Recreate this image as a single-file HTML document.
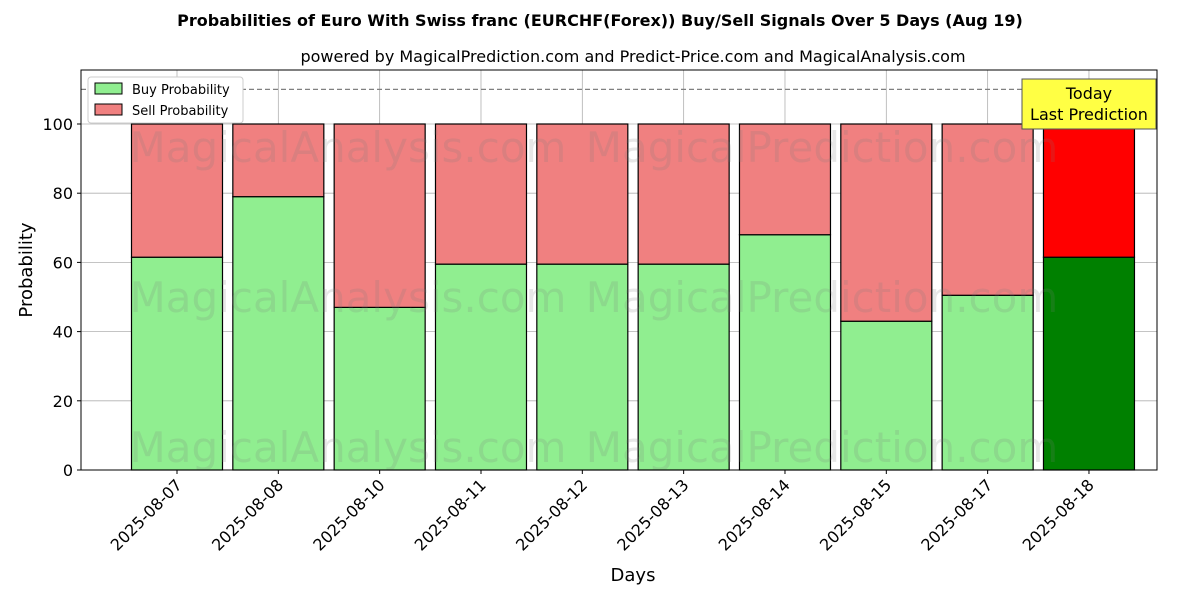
<!DOCTYPE html>
<html><head><meta charset="utf-8"><style>
body{margin:0;background:#fff;font-family:"Liberation Sans","DejaVu Sans",sans-serif}
</style></head><body>
<svg width="1200" height="600" xmlns="http://www.w3.org/2000/svg" font-family="DejaVu Sans, Liberation Sans, sans-serif">
<g id="plot"></g>
</svg>
<script>
const categories=["2025-08-07","2025-08-08","2025-08-10","2025-08-11","2025-08-12","2025-08-13","2025-08-14","2025-08-15","2025-08-17","2025-08-18"];
const buyValues=[61.5,79,47,59.5,59.5,59.5,68,43,50.5,61.5];
const sellValues=[38.5,21,53,40.5,40.5,40.5,32,57,49.5,38.5];
const yTicks=[0,20,40,60,80,100];
const NS="http://www.w3.org/2000/svg";
const svg=document.querySelector('svg');
const g=document.getElementById('plot');
const L=81,R=1157,T=70,B=470;
const y=v=>470-v*3.46;
const x=i=>177+i*101.33;
const bw=91;
function el(t,a,p){const e=document.createElementNS(NS,t);for(const k in a)e.setAttribute(k,a[k]);(p||g).appendChild(e);return e;}
// grid
yTicks.forEach(v=>{const l=el('line',{x1:L,x2:R,y1:y(v),y2:y(v),stroke:'#b0b0b0','stroke-width':0.8});

});
categories.forEach((c,i)=>{const l=el('line',{x1:x(i),x2:x(i),y1:T,y2:B,stroke:'#b0b0b0','stroke-width':0.8});

});
// bars
categories.forEach((c,i)=>{
const last=i===categories.length-1;
const b=el('rect',{x:x(i)-bw/2,y:y(buyValues[i]),width:bw,height:y(0)-y(buyValues[i]),fill:last?'#008000':'#90ee90',stroke:'#000','stroke-width':1.2});


const s=el('rect',{x:x(i)-bw/2,y:y(buyValues[i]+sellValues[i]),width:bw,height:y(buyValues[i])-y(buyValues[i]+sellValues[i]),fill:last?'#ff0000':'#f08080',stroke:'#000','stroke-width':1.2});


});
// watermarks
[[348,148],[822,148],[348,298],[822,298],[348,448],[822,448]].forEach((p,k)=>{
const t=el('text',{x:p[0],y:p[1]+14,'font-size':42,fill:'rgba(120,120,120,0.18)','text-anchor':'middle'});
t.textContent=(k%2==0)?'MagicalAnalysis.com':'MagicalPrediction.com';

});
// dashed line
const d=el('line',{x1:L,x2:R,y1:y(110),y2:y(110),stroke:'#808080','stroke-width':1.2,'stroke-dasharray':'5,3'});


// axes box
const f=el('rect',{x:L,y:T,width:R-L,height:B-T,fill:'none',stroke:'#000','stroke-width':1});


yTicks.forEach(v=>{el('line',{x1:L-4,x2:L,y1:y(v),y2:y(v),stroke:'#000'});
const t=el('text',{x:L-8,y:y(v)+6,'font-size':16,'text-anchor':'end'});t.textContent=v;

});
categories.forEach((c,i)=>{el('line',{x1:x(i),x2:x(i),y1:B,y2:B+4,stroke:'#000'});
const t=el('text',{x:x(i)+6,y:B+16,'font-size':16,'text-anchor':'end',transform:`rotate(-45 ${x(i)+6} ${B+16})`});t.textContent=c;

});
// titles
function txt(s,a,n){const t=el('text',a,svg);t.textContent=s;return t;}
txt('Probabilities of Euro With Swiss franc (EURCHF(Forex)) Buy/Sell Signals Over 5 Days (Aug 19)',{x:600,y:26,'font-size':16,'font-weight':'bold','text-anchor':'middle'},'chart-title');
txt('powered by MagicalPrediction.com and Predict-Price.com and MagicalAnalysis.com',{x:633,y:62,'font-size':16,'text-anchor':'middle'},'chart-subtitle');
txt('Days',{x:633,y:581,'font-size':18,'text-anchor':'middle'},'x-axis-title');
txt('Probability',{x:32,y:270,'font-size':18,'text-anchor':'middle',transform:'rotate(-90 32 270)'},'y-axis-title');
// annotation
const ab=el('rect',{x:1022,y:79,width:134,height:50,fill:'#ffff44',stroke:'#555','stroke-width':1},svg);


txt('Today',{x:1089,y:99,'font-size':16,'text-anchor':'middle'},'annotation-today');
txt('Last Prediction',{x:1089,y:120,'font-size':16,'text-anchor':'middle'},'annotation-last-prediction');
// legend
const lg=el('rect',{x:88,y:77,width:155,height:46,fill:'#fff',stroke:'#ccc',rx:3},svg);


[['Buy Probability','#90ee90',89],['Sell Probability','#f08080',110]].forEach(r=>{
const s=el('rect',{x:95,y:r[2]-6,width:27,height:11,fill:r[1],stroke:'#000'},svg);


txt(r[0],{x:132,y:r[2]+5,'font-size':13},'legend-entry');});
</script>
</body></html>
